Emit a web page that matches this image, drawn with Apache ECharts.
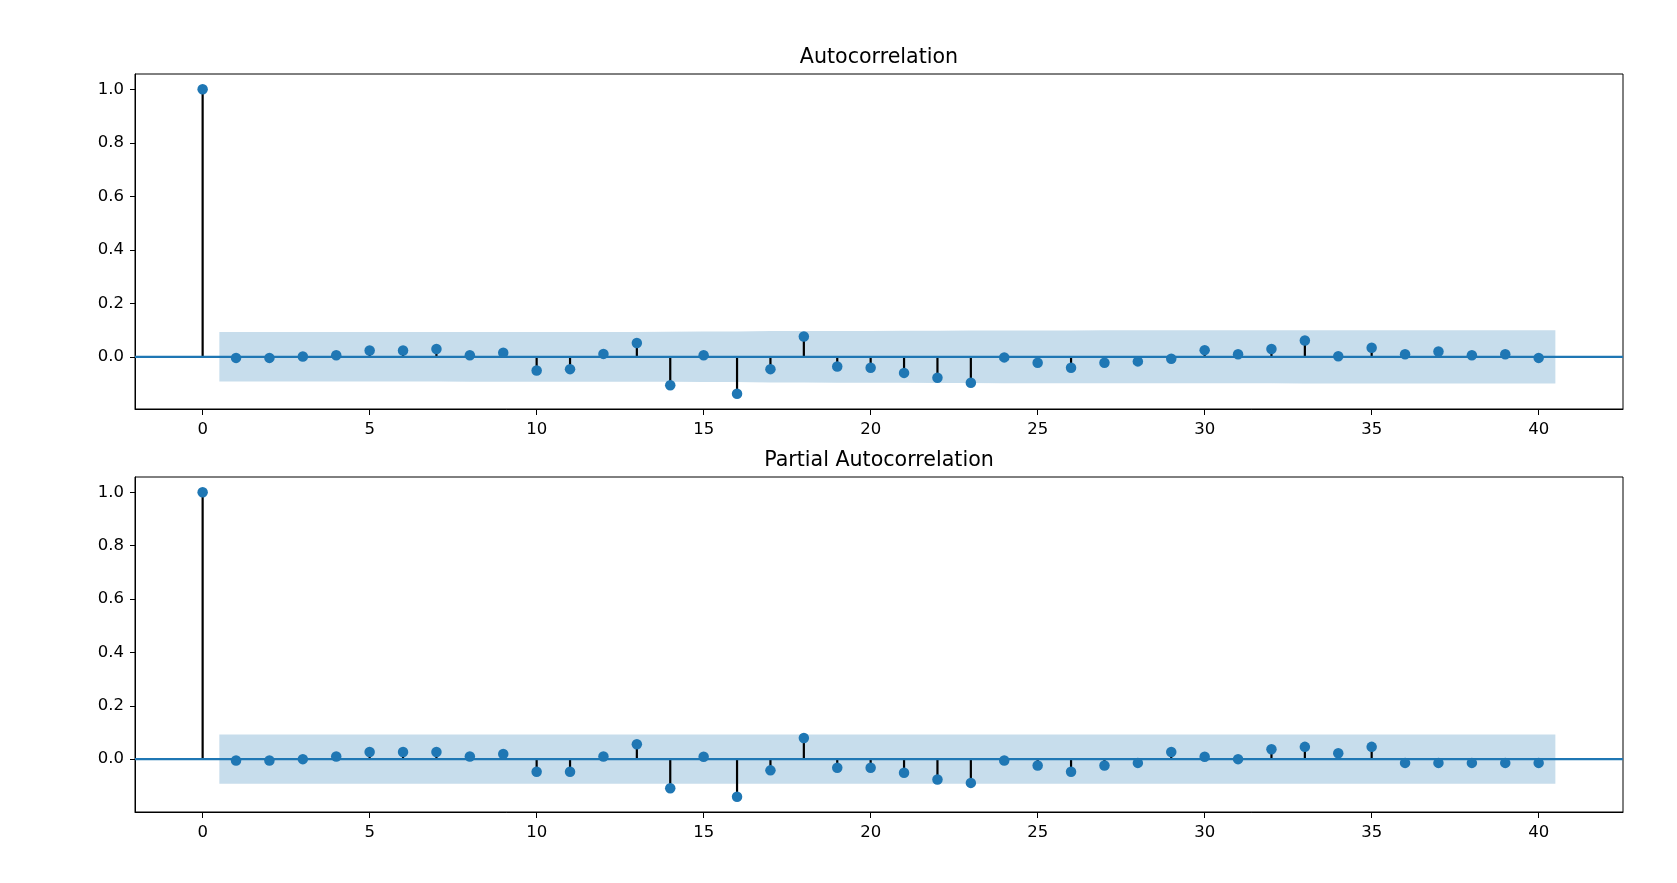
<!DOCTYPE html>
<html>
<head>
<meta charset="utf-8">
<script src="https://cdn.jsdelivr.net/npm/echarts@6/dist/echarts.min.js"></script>
<style>
html,body{margin:0;padding:0;background:#fff;}
#chart{width:1677px;height:883px;}
</style>
</head>
<body>
<div id="chart"></div>
<script>
// ---- data ----
const lags = [0,1,2,3,4,5,6,7,8,9,10,11,12,13,14,15,16,17,18,19,20,21,22,23,24,25,26,27,28,29,30,31,32,33,34,35,36,37,38,39,40];
const acfValues = [1.0, -0.004, -0.004, 0.001, 0.006, 0.024, 0.024, 0.029, 0.006, 0.015, -0.051, -0.046, 0.011, 0.052, -0.106, 0.006, -0.138, -0.046, 0.076, -0.036, -0.041, -0.060, -0.078, -0.097, -0.002, -0.022, -0.041, -0.022, -0.017, -0.007, 0.025, 0.010, 0.029, 0.061, 0.002, 0.034, 0.010, 0.020, 0.006, 0.010, -0.004];
const pacfValues = [1.0, -0.005, -0.005, 0.000, 0.010, 0.027, 0.027, 0.027, 0.010, 0.019, -0.047, -0.047, 0.010, 0.056, -0.109, 0.009, -0.141, -0.042, 0.079, -0.032, -0.032, -0.051, -0.076, -0.089, -0.005, -0.024, -0.047, -0.024, -0.014, 0.027, 0.009, 0.000, 0.037, 0.046, 0.022, 0.046, -0.014, -0.014, -0.014, -0.014, -0.014];
// confidence band half-widths for lags 1..40
const acfBand = [0.0925, 0.0925, 0.0925, 0.0925, 0.0926, 0.0926, 0.0926, 0.0927, 0.0927, 0.0927, 0.0930, 0.0931, 0.0932, 0.0934, 0.0944, 0.0944, 0.0961, 0.0963, 0.0968, 0.0970, 0.0971, 0.0974, 0.0980, 0.0988, 0.0988, 0.0988, 0.0990, 0.0990, 0.0990, 0.0990, 0.0991, 0.0991, 0.0992, 0.0995, 0.0995, 0.0996, 0.0996, 0.0996, 0.0996, 0.0996];
const pacfBand = [0.0925, 0.0925, 0.0925, 0.0925, 0.0925, 0.0925, 0.0925, 0.0925, 0.0925, 0.0925, 0.0925, 0.0925, 0.0925, 0.0925, 0.0925, 0.0925, 0.0925, 0.0925, 0.0925, 0.0925, 0.0925, 0.0925, 0.0925, 0.0925, 0.0925, 0.0925, 0.0925, 0.0925, 0.0925, 0.0925, 0.0925, 0.0925, 0.0925, 0.0925, 0.0925, 0.0925, 0.0925, 0.0925, 0.0925, 0.0925];
const xTicks = [0, 5, 10, 15, 20, 25, 30, 35, 40];
const yTicks = [0, 0.2, 0.4, 0.6, 0.8, 1.0];
const titles = ['Autocorrelation', 'Partial Autocorrelation'];
const xRange = [-2.025, 42.525];
const yRanges = [[-0.1949, 1.0569], [-0.198, 1.0571]];

// ---- styling ----
const BLUE = '#1f77b4';
const FONT = 'DejaVu Sans';
const TEXT = '#000';

const chart = echarts.init(document.getElementById('chart'), null, {renderer: 'canvas'});

const grids = [
  {left: 135, right: 54, top: 74, height: 335},
  {left: 135, right: 54, top: 477, height: 335}
];

function makeAxes(i) {
  const xAxis = {
    type: 'value', gridIndex: i, min: xRange[0], max: xRange[1],
    axisLine: {show: true, onZero: false, lineStyle: {color: '#000', width: 1}},
    axisTick: {show: true, inside: false, length: 6, customValues: xTicks, lineStyle: {color: '#000', width: 1}},
    axisLabel: {show: true, customValues: xTicks, margin: 12, fontFamily: FONT, fontSize: 16.5, color: TEXT,
                formatter: v => String(Math.round(v))},
    splitLine: {show: false}
  };
  const yAxis = {
    type: 'value', gridIndex: i, min: yRanges[i][0], max: yRanges[i][1],
    axisLine: {show: true, onZero: false, lineStyle: {color: '#000', width: 1}},
    axisTick: {show: true, inside: false, length: 5, customValues: yTicks, lineStyle: {color: '#000', width: 1}},
    axisLabel: {show: true, customValues: yTicks, margin: 11, fontFamily: FONT, fontSize: 16.5, color: TEXT,
                formatter: v => v.toFixed(1)},
    splitLine: {show: false}
  };
  return [xAxis, yAxis];
}

function bandSeries(i, band) {
  const data = band.map((c, k) => [lags[k + 1], c]);
  return {
    type: 'custom', xAxisIndex: i, yAxisIndex: i, z: 1, silent: true,
    data: data,
    renderItem: function (params, api) {
      if (params.dataIndex !== 0) return null;
      const n = data.length;
      const upper = [], lower = [];
      for (let k = 0; k < n; k++) {
        let x = data[k][0];
        if (k === 0) x -= 0.5;
        if (k === n - 1) x += 0.5;
        upper.push(api.coord([x, data[k][1]]));
        lower.unshift(api.coord([x, -data[k][1]]));
      }
      return {
        type: 'polygon',
        shape: {points: upper.concat(lower)},
        style: {fill: 'rgba(31,119,180,0.25)', stroke: null}
      };
    }
  };
}

function stemSeries(i, vals) {
  return {
    type: 'custom', xAxisIndex: i, yAxisIndex: i, z: 2, silent: true,
    data: vals.map((v, k) => [lags[k], v]),
    renderItem: function (params, api) {
      const p0 = api.coord([api.value(0), 0]);
      const p1 = api.coord([api.value(0), api.value(1)]);
      return {
        type: 'line',
        shape: {x1: p0[0], y1: p0[1], x2: p1[0], y2: p1[1]},
        style: {stroke: '#000', lineWidth: 2.2}
      };
    }
  };
}

function zeroLine(i) {
  return {
    type: 'line', xAxisIndex: i, yAxisIndex: i, z: 3, silent: true,
    data: [[xRange[0], 0], [xRange[1], 0]],
    symbol: 'none', lineStyle: {color: BLUE, width: 2.2}, animation: false
  };
}

function markerSeries(i, vals) {
  return {
    type: 'scatter', xAxisIndex: i, yAxisIndex: i, z: 4, silent: true,
    data: vals.map((v, k) => [lags[k], v]),
    symbol: 'circle', symbolSize: 10.5,
    itemStyle: {color: BLUE, opacity: 1}
  };
}

const ax0 = makeAxes(0), ax1 = makeAxes(1);

const option = {
  backgroundColor: '#fff',
  animation: false,
  grid: grids.map(g => Object.assign({show: true, borderColor: '#000', borderWidth: 1, backgroundColor: 'transparent'}, g)),
  xAxis: [ax0[0], ax1[0]],
  yAxis: [ax0[1], ax1[1]],
  graphic: [
    {type: 'text', x: 879, y: 57.5, silent: true,
     style: {text: titles[0], fontFamily: FONT, fontSize: 20.6, fill: TEXT, align: 'center', verticalAlign: 'middle'}},
    {type: 'text', x: 879, y: 460.5, silent: true,
     style: {text: titles[1], fontFamily: FONT, fontSize: 20.6, fill: TEXT, align: 'center', verticalAlign: 'middle'}}
  ],
  series: [
    bandSeries(0, acfBand), stemSeries(0, acfValues), zeroLine(0), markerSeries(0, acfValues),
    bandSeries(1, pacfBand), stemSeries(1, pacfValues), zeroLine(1), markerSeries(1, pacfValues)
  ]
};
chart.setOption(option);
</script>
</body>
</html>
